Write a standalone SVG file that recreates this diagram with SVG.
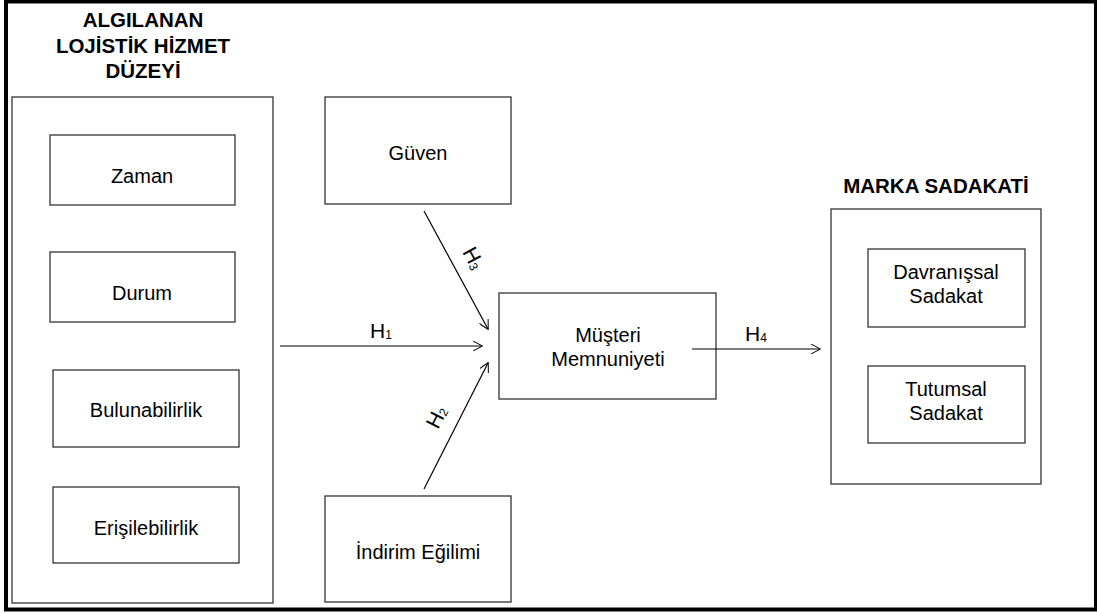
<svg xmlns="http://www.w3.org/2000/svg" width="1097" height="613" viewBox="0 0 1097 613">
<defs>
<style>
.box{fill:#fff;stroke:#333;stroke-width:1.3}
.t{font-family:"Liberation Sans",Arial,sans-serif;font-size:20px;fill:#000;text-anchor:middle}
.b{font-family:"Liberation Sans",Arial,sans-serif;font-size:20.5px;font-weight:bold;fill:#000;text-anchor:middle}
.h{font-family:"Liberation Sans",Arial,sans-serif;font-size:21px;fill:#000}
.sub{font-size:12px}
.c{stroke:#000;stroke-width:1.2;fill:none}
</style>
<marker id="ar" viewBox="0 0 10 10" refX="9" refY="5" markerWidth="10" markerHeight="10" markerUnits="userSpaceOnUse" orient="auto">
<path d="M0,0 L9.5,5 L0,10" fill="none" stroke="#000" stroke-width="1"/>
</marker>
</defs>
<rect width="1097" height="613" fill="#fff"/>
<rect x="6" y="1.5" width="1090" height="608" fill="none" stroke="#000" stroke-width="4"/>

<g id="algilanan">
<rect class="box" x="12" y="97" width="261" height="506"/>
<text class="b" x="143" y="27">ALGILANAN</text>
<text class="b" x="143" y="53">LOJİSTİK HİZMET</text>
<text class="b" x="143" y="78">DÜZEYİ</text>
</g>
<g id="zaman"><rect class="box" x="50" y="135" width="185" height="70"/><text class="t" x="142" y="183">Zaman</text></g>
<g id="durum"><rect class="box" x="50" y="252" width="185" height="70"/><text class="t" x="142" y="300">Durum</text></g>
<g id="bulunabilirlik"><rect class="box" x="53" y="370" width="186" height="77"/><text class="t" x="146" y="417">Bulunabilirlik</text></g>
<g id="erisilebilirlik"><rect class="box" x="53" y="487" width="186" height="76"/><text class="t" x="146" y="535">Erişilebilirlik</text></g>

<g id="guven"><rect class="box" x="325" y="97" width="186" height="107"/><text class="t" x="418" y="160">Güven</text></g>
<g id="musteri"><rect class="box" x="499" y="293" width="217" height="106"/><text class="t" x="608" y="342">Müşteri</text><text class="t" x="608" y="366">Memnuniyeti</text></g>
<g id="indirim"><rect class="box" x="325" y="496" width="186" height="106"/><text class="t" x="418" y="559">İndirim Eğilimi</text></g>

<g id="marka">
<rect class="box" x="831" y="209" width="210" height="275"/>
<text class="b" x="936" y="193">MARKA SADAKATİ</text>
</g>
<g id="davranissal"><rect class="box" x="868" y="249" width="157" height="78"/><text class="t" x="946" y="279">Davranışsal</text><text class="t" x="946" y="303">Sadakat</text></g>
<g id="tutumsal"><rect class="box" x="868" y="366" width="157" height="77"/><text class="t" x="946" y="396">Tutumsal</text><text class="t" x="946" y="420">Sadakat</text></g>

<g id="connectors">
<line class="c" x1="280" y1="346" x2="482" y2="346" marker-end="url(#ar)"/>
<text class="h" x="370" y="338">H<tspan class="sub" dy="1">1</tspan></text>
<line class="c" x1="424" y1="211" x2="488" y2="329" marker-end="url(#ar)"/>
<text class="h" transform="translate(462,252) rotate(61.5)">H<tspan class="sub" dy="1">3</tspan></text>
<line class="c" x1="424" y1="489" x2="488" y2="363" marker-end="url(#ar)"/>
<text class="h" transform="translate(438,430) rotate(-63)">H<tspan class="sub" dy="1">2</tspan></text>
<line class="c" x1="692" y1="349" x2="820" y2="349" marker-end="url(#ar)"/>
<text class="h" x="745" y="341">H<tspan class="sub" dy="1">4</tspan></text>
</g>
</svg>
